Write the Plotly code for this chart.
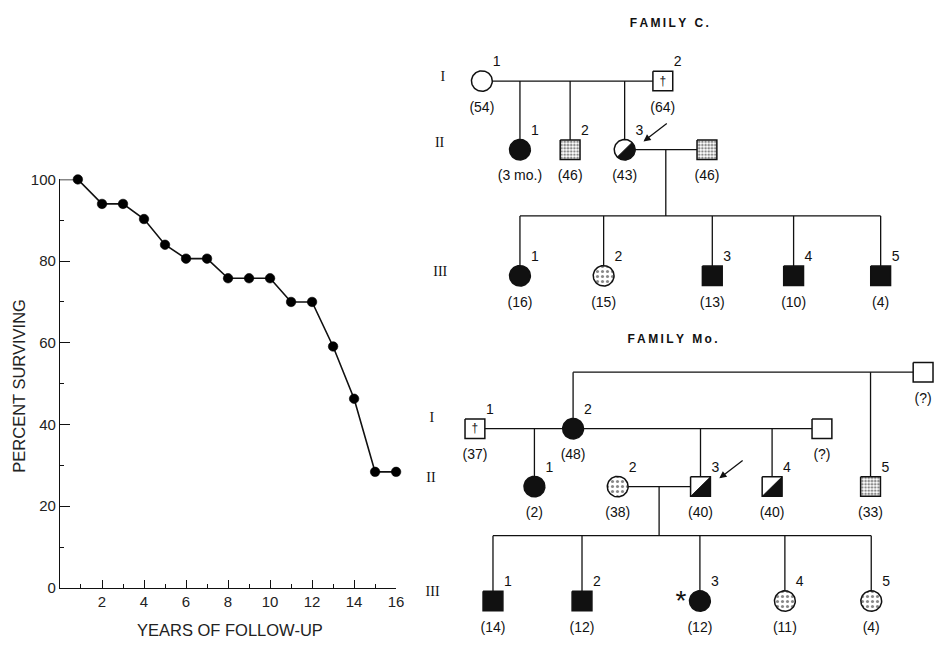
import numpy as np
import plotly.graph_objects as go

# ---------------- survival curve data ----------------
years = [0, 0.85, 2, 3, 4, 5, 6, 7, 8, 9, 10, 11, 12, 13, 14, 15, 16]
percent_surviving = [100, 100, 94, 94, 90.3, 84, 80.6, 80.6, 75.8, 75.8, 75.8,
                     70, 70, 59.1, 46.3, 28.4, 28.4]
x_ticks = [2, 4, 6, 8, 10, 12, 14, 16]
y_ticks = [0, 20, 40, 60, 80, 100]

# ---------------- Family C pedigree data ----------------
c_id = ["I-1", "I-2", "II-1", "II-2", "II-3", "II-s",
        "III-1", "III-2", "III-3", "III-4", "III-5"]
c_sex = ["F", "M", "F", "M", "F", "M", "F", "F", "M", "M", "M"]
c_status = ["normal", "deceased", "affected", "dotted", "half", "dotted",
            "affected", "dotted", "affected", "affected", "affected"]
c_number = ["1", "2", "1", "2", "3", "", "1", "2", "3", "4", "5"]
c_age = ["(54)", "(64)", "(3 mo.)", "(46)", "(43)", "(46)",
         "(16)", "(15)", "(13)", "(10)", "(4)"]
c_couples = [dict(a="I-1", b="I-2", kids=["II-1", "II-2", "II-3"]),
             dict(a="II-3", b="II-s", kids=["III-1", "III-2", "III-3", "III-4", "III-5"], sib=True)]
c_proband = "II-3"

# ---------------- Family Mo pedigree data ----------------
m_id = ["I-1", "I-2", "I-3", "I-x", "II-1", "II-2", "II-3", "II-4", "II-5",
        "III-1", "III-2", "III-3", "III-4", "III-5"]
m_sex = ["M", "F", "M", "M", "F", "F", "M", "M", "M", "M", "M", "F", "F", "F"]
m_status = ["deceased", "affected", "normal", "normal", "affected", "dotted", "half",
            "half", "dotted", "affected", "affected", "affected", "dotted", "dotted"]
m_number = ["1", "2", "", "", "1", "2", "3", "4", "5", "1", "2", "3", "4", "5"]
m_age = ["(37)", "(48)", "(?)", "(?)", "(2)", "(38)", "(40)", "(40)", "(33)",
         "(14)", "(12)", "(12)", "(11)", "(4)"]
m_couples = [dict(a="I-1", b="I-2", kids=["II-1"]),
             dict(a="I-2", b="I-3", kids=["II-3", "II-4"]),
             dict(a="I-2", b="I-x", kids=["II-5"], over=True),
             dict(a="II-2", b="II-3", kids=["III-1", "III-2", "III-3", "III-4", "III-5"], sib=True)]
m_proband = "II-3"
m_starred = "III-3"
generations = ["I", "II", "III"]

# ---------------- layout (pixel positions of pedigree drawing) ----------------
c_pos_x = [486, 668.5, 524.4, 575, 630, 713, 524.4, 608.8, 718.4, 800.4, 888.2]
c_pos_y = [74, 74, 144.5, 144.5, 144.5, 144.5, 274, 274, 274, 274, 274]
c_sib_y = 212.5
c_gen_x = [446.7, 443.3, 444]
c_gen_y = [70, 138.3, 270.6]
c_title_pos = (675, 15.5)

m_pos_x = [479, 578, 829, 931, 539, 623, 706.5, 778.7, 878, 497.2, 587, 705.9, 791.6, 878.7]
m_pos_y = [431, 431, 431, 373, 490.5, 490.5, 490.5, 490.5, 490.5, 608, 608, 608, 608, 608]
m_sib_y = 540.9
m_gen_x = [435.6, 434.6, 436.3]
m_gen_y = [421, 482, 599.6]
m_title_pos = (678.3, 339.8)

W, H = 942, 647
S = 10  # half size of pedigree symbols
INK = "#111111"
FONT = "Liberation Sans"

fig = go.Figure()

# ---------------- survival curve ----------------
fig.add_trace(go.Scatter(
    x=years, y=percent_surviving, mode="lines+markers",
    line=dict(color=INK, width=1.6),
    marker=dict(color="#000000", size=[0] + [9.5] * (len(years) - 1), opacity=1,
                line=dict(color="#000000", width=0.6)),
    cliponaxis=False, xaxis="x", yaxis="y", hoverinfo="skip"))


# ---------------- pedigree helpers ----------------
def circle_poly(cx, cy, r, a0=0.0, a1=360.0, n=72):
    t = np.radians(np.linspace(a0, a1, n))
    return list(cx + r * np.cos(t)), list(cy - r * np.sin(t))


def square_poly(cx, cy, h):
    return [cx - h, cx + h, cx + h, cx - h, cx - h], [cy - h, cy - h, cy + h, cy + h, cy - h]


def add_poly(px, py, fillcolor="white", pattern=None, width=1.5):
    kw = dict(x=px, y=py, mode="lines", fill="toself", fillcolor=fillcolor,
              line=dict(color=INK, width=width), xaxis="x2", yaxis="y2",
              hoverinfo="skip", showlegend=False)
    if pattern == "dense":
        kw["fillpattern"] = dict(shape=".", fgcolor=INK, bgcolor="white", size=3.2, solidity=0.5)
    elif pattern == "sparse":
        kw["fillpattern"] = dict(shape=".", fgcolor=INK, bgcolor="white", size=5, solidity=0.3)
    fig.add_trace(go.Scatter(**kw))


def draw_family(ids, sex, status, number, age, px, py, couples, sib_y,
                gen_x, gen_y, title, title_pos, proband, starred=None):
    P = {i: (x, y) for i, x, y in zip(ids, px, py)}
    lx, ly = [], []

    def seg(x0, y0, x1, y1):
        lx.extend([x0, x1, None])
        ly.extend([y0, y1, None])

    for c in couples:
        ax_, ay_ = P[c["a"]]
        bx_, by_ = P[c["b"]]
        if c.get("over"):
            yl = by_
            seg(ax_, ay_ - S, ax_, yl)
            seg(ax_, yl, bx_ - S, yl)
            for k in c["kids"]:
                kx, ky = P[k]
                seg(kx, yl, kx, ky - S)
            continue
        seg(ax_ + S, ay_, bx_ - S, by_)
        if c.get("sib"):
            mx = (ax_ + S + bx_ - S) / 2
            seg(mx, ay_, mx, sib_y)
            kxs = [P[k][0] for k in c["kids"]]
            seg(min(kxs), sib_y, max(kxs), sib_y)
            for k in c["kids"]:
                kx, ky = P[k]
                seg(kx, sib_y, kx, ky - S)
        else:
            for k in c["kids"]:
                kx, ky = P[k]
                seg(kx, ay_, kx, ky - S)
    fig.add_trace(go.Scatter(x=lx, y=ly, mode="lines", line=dict(color=INK, width=1.3),
                             xaxis="x2", yaxis="y2", hoverinfo="skip", showlegend=False))

    daggers = []
    for i, sx, st in zip(ids, sex, status):
        cx, cy = P[i]
        if sx == "F":
            qx, qy = circle_poly(cx, cy, S + 0.5)
        else:
            qx, qy = square_poly(cx, cy, S)
        if st == "affected":
            add_poly(qx, qy, fillcolor=INK)
        elif st == "dotted":
            add_poly(qx, qy, pattern="sparse" if sx == "F" else "dense")
        elif st == "half":
            add_poly(qx, qy, fillcolor="white")
            if sx == "F":
                hx, hy = circle_poly(cx, cy, S + 0.5, -135, 45, 40)
                hx.append(hx[0]); hy.append(hy[0])
            else:
                hx = [cx - S, cx + S, cx + S, cx - S]
                hy = [cy + S, cy + S, cy - S, cy + S]
            add_poly(hx, hy, fillcolor=INK, width=0.8)
        else:
            add_poly(qx, qy, fillcolor="white")
            if st == "deceased":
                daggers.append((cx, cy))

    if daggers:
        fig.add_trace(go.Scatter(x=[d[0] for d in daggers], y=[d[1] + 0.5 for d in daggers],
                                 mode="text", text=["†"] * len(daggers),
                                 textfont=dict(family=FONT, size=12, color=INK),
                                 xaxis="x2", yaxis="y2", hoverinfo="skip", showlegend=False))
    # individual numbers
    fig.add_trace(go.Scatter(x=[P[i][0] + 15 for i in ids], y=[P[i][1] - 19 for i in ids],
                             mode="text", text=number,
                             textfont=dict(family=FONT, size=14, color=INK),
                             xaxis="x2", yaxis="y2", hoverinfo="skip", showlegend=False))
    # ages
    fig.add_trace(go.Scatter(x=[P[i][0] for i in ids], y=[P[i][1] + 28 for i in ids],
                             mode="text", text=age,
                             textfont=dict(family=FONT, size=14, color=INK),
                             xaxis="x2", yaxis="y2", hoverinfo="skip", showlegend=False))
    # generation numerals
    fig.add_trace(go.Scatter(x=gen_x, y=gen_y, mode="text", text=generations,
                             textfont=dict(family="Liberation Serif", size=14, color=INK),
                             xaxis="x2", yaxis="y2", hoverinfo="skip", showlegend=False))
    # title
    fig.add_trace(go.Scatter(x=[title_pos[0]], y=[title_pos[1]], mode="text",
                             text=["\u2009".join(list(title))],
                             textfont=dict(family=FONT, size=12, color=INK, weight="bold"),
                             xaxis="x2", yaxis="y2", hoverinfo="skip", showlegend=False))
    # proband arrow
    px0, py0 = P[proband]
    fig.add_annotation(x=px0 + 19, y=py0 - 8.5, ax=px0 + 44, ay=py0 - 28,
                       xref="x2", yref="y2", axref="x2", ayref="y2", text="",
                       showarrow=True, arrowhead=2, arrowsize=1.1, arrowwidth=1.3,
                       arrowcolor=INK, standoff=0)
    if starred:
        sx0, sy0 = P[starred]
        fig.add_trace(go.Scatter(x=[sx0 - 19], y=[sy0 + 2], mode="text", text=["*"],
                                 textfont=dict(family=FONT, size=28, color=INK),
                                 xaxis="x2", yaxis="y2", hoverinfo="skip", showlegend=False))


draw_family(c_id, c_sex, c_status, c_number, c_age, c_pos_x, c_pos_y, c_couples, c_sib_y,
            c_gen_x, c_gen_y, "FAMILY C.", c_title_pos, c_proband)
draw_family(m_id, m_sex, m_status, m_number, m_age, m_pos_x, m_pos_y, m_couples, m_sib_y,
            m_gen_x, m_gen_y, "FAMILY Mo.", m_title_pos, m_proband, m_starred)

# axis titles of the survival curve (placed on pixel overlay)
fig.add_annotation(x=231.7, y=637.7, xref="x2", yref="y2", text="YEARS OF FOLLOW-UP",
                   showarrow=False, font=dict(family=FONT, size=16.5, color="#222"))
fig.add_annotation(x=18.3, y=386.7, xref="x2", yref="y2", text="PERCENT SURVIVING",
                   textangle=-90, showarrow=False, font=dict(family=FONT, size=16.5, color="#222"))

x0, x1 = 60.5, 399.5
y0, y1 = 594.5, 175
fig.update_layout(
    width=W, height=H, margin=dict(l=0, r=0, t=0, b=0),
    paper_bgcolor="white", plot_bgcolor="rgba(0,0,0,0)", showlegend=False,
    xaxis=dict(domain=[x0 / W, x1 / W], range=[0, 16], anchor="y",
               showline=True, linecolor=INK, linewidth=1.3, showgrid=False, zeroline=False,
               ticks="inside", ticklen=8, tickwidth=1.3, tickcolor=INK,
               tickvals=x_ticks, ticktext=[str(v) for v in x_ticks],
               tickfont=dict(family=FONT, size=15, color="#222"),
               minor=dict(dtick=1, tick0=0, ticks="inside", ticklen=3.5, tickwidth=1.3, tickcolor=INK),
               fixedrange=True),
    yaxis=dict(domain=[(H - y0) / H, (H - y1) / H], range=[0, 100], anchor="x",
               showline=True, linecolor=INK, linewidth=1.3, showgrid=False, zeroline=False,
               ticks="inside", ticklen=10, tickwidth=1.3, tickcolor=INK,
               tickvals=y_ticks, ticktext=[str(v) for v in y_ticks],
               tickfont=dict(family=FONT, size=15, color="#222"),
               minor=dict(dtick=10, tick0=0, ticks="inside", ticklen=3.5, tickwidth=1.3, tickcolor=INK),
               fixedrange=True),
    xaxis2=dict(domain=[0, 1], range=[0, W], anchor="y2", visible=False, fixedrange=True),
    yaxis2=dict(domain=[0, 1], range=[H, 0], anchor="x2", visible=False, fixedrange=True),
)

fig.write_html("out.html")
